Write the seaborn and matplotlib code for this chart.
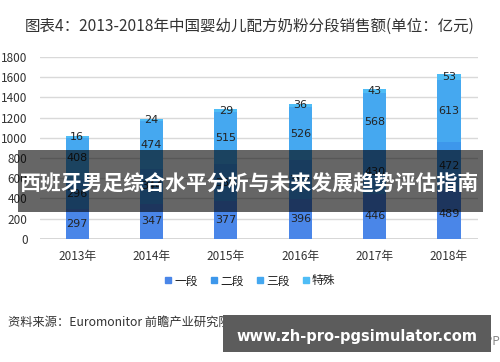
import numpy as np
import pandas as pd
import matplotlib
matplotlib.use("Agg")
import matplotlib.pyplot as plt
import seaborn as sns
from matplotlib.lines import Line2D
from matplotlib.patches import Rectangle

# data
years = ["2013年", "2014年", "2015年", "2016年", "2017年", "2018年"]
seg_names = ["一段", "二段", "三段", "特殊"]
duan1 = [297, 347, 377, 396, 446, 489]
duan2 = [296, 344, 360, 382, 430, 472]
duan3 = [408, 474, 515, 526, 568, 613]
teshu = [16, 24, 29, 36, 43, 53]
colors = ["#4a86e8", "#3d97eb", "#45a8f0", "#4fbdf6"]

sns.set_style("white")
plt.rcParams['font.family'] = ['Noto Sans CJK SC', 'DejaVu Sans']

fig = plt.figure(figsize=(5, 3.62), dpi=100)
ax = fig.add_axes([0.08, 0.34, 0.876, 0.5025])

vals = [duan1, duan2, duan3, teshu]
tops = np.cumsum(np.array(vals), axis=0)

# draw from the top of the stack down so lower segments cover upper ones
for k in range(3, -1, -1):
    df = pd.DataFrame({"year": years, "v": tops[k]})
    sns.barplot(data=df, x="year", y="v", color=colors[k], width=0.31,
                saturation=1, linewidth=0, ax=ax)

for k in range(4):
    for i in range(len(years)):
        bottom = tops[k][i] - vals[k][i]
        ax.text(i, bottom + vals[k][i] / 2, str(vals[k][i]), ha="center", va="center",
                fontsize=8, color="#222222", family=['DejaVu Sans'])

ax.set_ylim(0, 1800)
ax.set_xlim(-0.5, 5.39)
ax.set_yticks(range(0, 1801, 200))
ax.yaxis.grid(True, color="#d9d9d9", linewidth=1)
ax.set_axisbelow(True)
for s in ax.spines.values():
    s.set_visible(False)
ax.axhline(0, color="#d0d0d0", linewidth=1.2, zorder=0)
ax.set_xlabel("")
ax.set_ylabel("")
ax.tick_params(axis="y", labelsize=8.5, labelcolor="#333333", length=0, pad=9)
ax.tick_params(axis="x", labelsize=8.5, labelcolor="#333333", length=0, pad=8)

# legend
handles = [Line2D([], [], marker="s", linestyle="", markersize=4.5, color=c) for c in colors]
fig.legend(handles, seg_names, loc="center", bbox_to_anchor=(0.5, 0.224), ncol=4,
           frameon=False, fontsize=8.5, handlelength=0.6, handletextpad=0.2,
           columnspacing=1.1, labelcolor="#222222")

# title and source
fig.text(0.5, 1 - 26 / 362, "图表4：2013-2018年中国婴幼儿配方奶粉分段销售额(单位：亿元)",
         ha="center", va="center", fontsize=11.2, color="#333333")
fig.text(8 / 500, 1 - 322 / 362, "资料来源：Euromonitor 前瞻产业研究院整理",
         ha="left", va="center", fontsize=8.8, color="#333333")
fig.text(1.0, 1 - 341 / 362, "@前瞻经济学人APP", ha="right", va="center",
         fontsize=8.5, color="#888888")

# overlay banners
fig.patches.append(Rectangle((18 / 500, 1 - 212 / 362), 465 / 500, 62 / 362, linewidth=0,
                             transform=fig.transFigure, facecolor="black", alpha=0.6, zorder=5))
fig.text(0.5, 1 - 184 / 362, "西班牙男足综合水平分析与未来发展趋势评估指南", ha="center",
         va="center", fontsize=15.0, color="white", fontweight="bold", zorder=6)
fig.patches.append(Rectangle((223 / 500, 1 - 352 / 362), 268 / 500, 37 / 362, linewidth=0,
                             transform=fig.transFigure, facecolor="#5c5c5c", zorder=5))
fig.text(357 / 500, 1 - 337 / 362, "www.zh-pro-pgsimulator.com", ha="center", va="center",
         fontsize=10.5, color="white", fontweight="bold", zorder=6, family=['DejaVu Sans'])

fig.savefig("out.png", dpi=100)
